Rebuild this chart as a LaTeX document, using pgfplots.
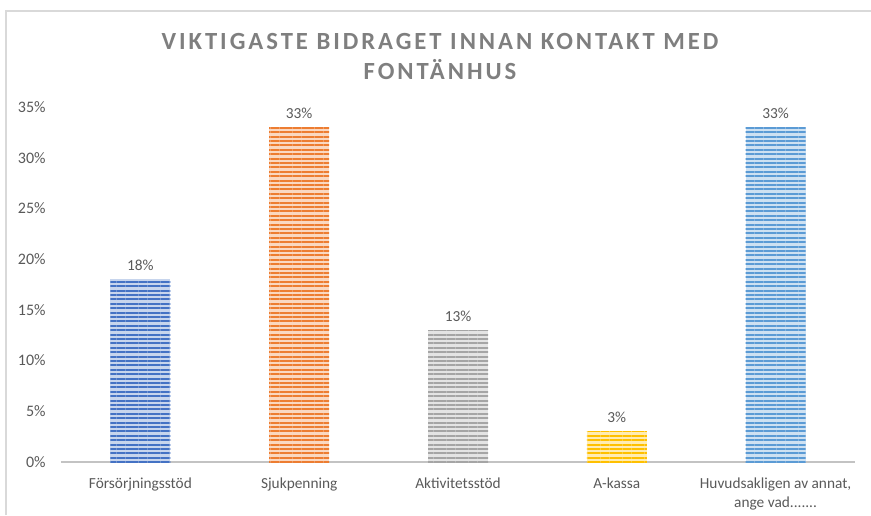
\documentclass[border=0pt]{standalone}
\usepackage{pgfplots}
\pgfplotsset{compat=1.18}
\usetikzlibrary{patterns.meta}
\usepackage{fontspec}
\setmainfont{Carlito}

\definecolor{cblue}{HTML}{4472C4}
\definecolor{corange}{HTML}{ED7D31}
\definecolor{cgray}{HTML}{A5A5A5}
\definecolor{cgold}{HTML}{FFC000}
\definecolor{clblue}{HTML}{5B9BD5}
\definecolor{txt}{HTML}{595959}
\definecolor{ttl}{HTML}{7F7F7F}
\definecolor{frame}{HTML}{D9D9D9}

% px -> pt (0.75)
\newcommand{\px}[1]{#1*0.75pt}
\newcommand{\lastlab}{Huvudsakligen av annat,\\ange vad.{}.{}.{}.{}.{}.{}.}

\pgfplotsset{
  stripe/.style={
    fill=#1!30,
    draw=none,
    postaction={pattern={Lines[angle=0,distance=3.3pt,line width=1.5pt]},pattern color=#1},
  },
}

\begin{document}
\begin{tikzpicture}
\useasboundingbox (0,0) rectangle (653.25pt,386.25pt);
\draw[frame,line width=1pt] (\px{6},0) -- (\px{6},\px{504}) -- (653.25pt,\px{504});
\node[ttl,font=\fontsize{18.5}{22.5}\selectfont\bfseries\addfontfeature{LetterSpace=12},align=center]
  at (\px{440},\px{458}) {VIKTIGASTE BIDRAGET INNAN KONTAKT MED\\FONTÄNHUS};
\begin{axis}[
  at={(\px{61},\px{53})}, anchor=south west,
  scale only axis,
  width=\px{794}, height=\px{355},
  xmin=-0.5, xmax=4.5, ymin=0, ymax=35,
  ybar, bar width=\px{60}, bar shift=0pt,
  axis x line*=bottom, axis y line*=left,
  y axis line style={draw=none},
  x axis line style={draw=frame!90!black,line width=1pt},
  xtick={0,1,2,3,4},
  xticklabels={Försörjningsstöd,Sjukpenning,Aktivitetsstöd,A-kassa,\lastlab},
  xticklabel style={align=center,text=txt,font=\fontsize{11.5}{14}\selectfont,anchor=north,yshift=-4pt},
  ytick={0,5,10,15,20,25,30,35},
  yticklabel={\pgfmathprintnumber{\tick}\%},
  yticklabel style={text=txt,font=\fontsize{12}{14}\selectfont,xshift=-8pt},
  /pgf/number format/assume math mode=true,
  tick style={draw=none},
  nodes near coords={\pgfmathprintnumber{\pgfplotspointmeta}\%},
  nodes near coords style={text=txt,font=\fontsize{11.5}{14}\selectfont,yshift=3pt},
  clip=false,
]
\addplot[stripe=cblue] coordinates {(0,18)};
\addplot[stripe=corange] coordinates {(1,33)};
\addplot[stripe=cgray] coordinates {(2,13)};
\addplot[stripe=cgold] coordinates {(3,3)};
\addplot[stripe=clblue] coordinates {(4,33)};
\end{axis}
\end{tikzpicture}
\end{document}
